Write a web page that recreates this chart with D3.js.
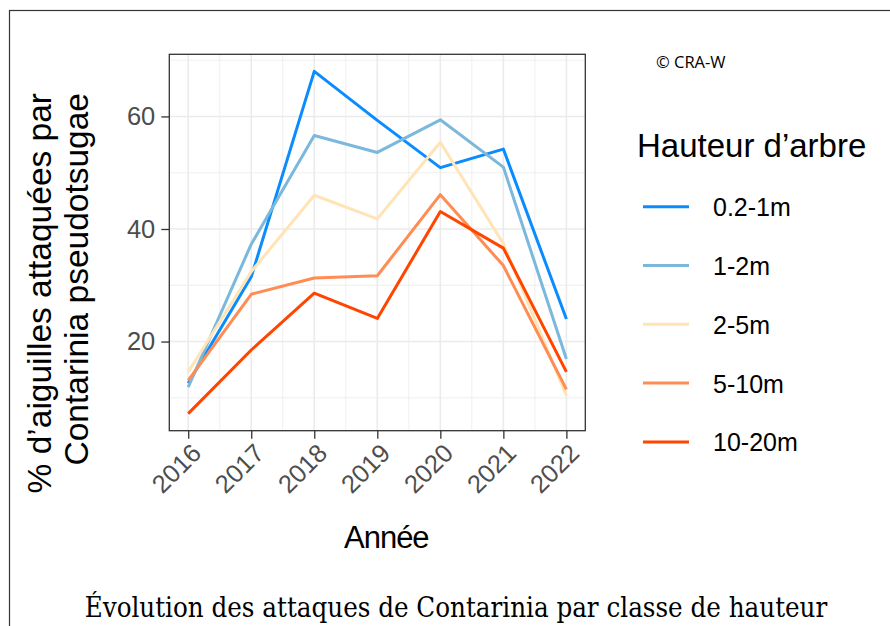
<!DOCTYPE html>
<meta charset="utf-8">
<head>
  <script src="https://cdn.jsdelivr.net/npm/d3@7"></script>
  <style>
    body { margin: 0; background: #fff; }
    svg { display: block; }
    .tick text { font-family: "Liberation Sans", Arial, sans-serif; fill: #4d4d4d; }
  </style>
</head>
<body>
<script type="text/javascript">

// Donnees
var years = [2016, 2017, 2018, 2019, 2020, 2021, 2022];
var classes = ["0.2-1m", "1-2m", "2-5m", "5-10m", "10-20m"];
var colors = ["#0a8cff", "#7ab8dc", "#ffe4b5", "#ff8c52", "#ff4500"];
var s02_1 = [12.6, 31.5, 68.0, 59.3, 50.9, 54.2, 24.0];
var s1_2 = [11.9, 37.3, 56.6, 53.6, 59.4, 51.0, 16.9];
var s2_5 = [14.6, 32.4, 46.0, 41.8, 55.4, 37.4, 10.4];
var s5_10 = [13.1, 28.4, 31.3, 31.7, 46.1, 33.5, 11.5];
var s10_20 = [7.2, 18.5, 28.6, 24.1, 43.1, 36.6, 14.6];
var yTicks = [20, 40, 60];
var yMinor = [10, 30, 50, 70];

var series = [s02_1, s1_2, s2_5, s5_10, s10_20];

var W = 890, H = 626;
var panel = {left: 169.3, top: 54.3, right: 585.3, bottom: 430.7};
var sans = "'Liberation Sans', Arial, sans-serif";

var svg = d3.select("body").append("svg")
  .attr("width", W).attr("height", H);

// cadre de l'image
svg.append("rect")
  .attr("x", 9.5).attr("y", 10.5)
  .attr("width", W + 20).attr("height", H + 20)
  .attr("fill", "none").attr("stroke", "#333").attr("stroke-width", 1.2);

// echelles (expansion 5% comme ggplot)
var allV = d3.merge(series);
var vmin = d3.min(allV), vmax = d3.max(allV);
var pad = (vmax - vmin) * 0.05;
var yScale = d3.scaleLinear().domain([vmin - pad, vmax + pad]).range([panel.bottom, panel.top]);
var xpad = (2022 - 2016) * 0.05;
var xScale = d3.scaleLinear().domain([2016 - xpad, 2022 + xpad]).range([panel.left, panel.right]);

// grille
var grid = svg.append("g");
var xMinor = years.slice(0, -1).map(function(y) { return y + 0.5; });
grid.selectAll(".xmin").data(xMinor).enter().append("line")
  .attr("x1", function(d) { return xScale(d); }).attr("x2", function(d) { return xScale(d); })
  .attr("y1", panel.top).attr("y2", panel.bottom)
  .attr("stroke", "#ebebeb").attr("stroke-width", 0.8);
grid.selectAll(".ymin").data(yMinor).enter().append("line")
  .attr("y1", function(d) { return yScale(d); }).attr("y2", function(d) { return yScale(d); })
  .attr("x1", panel.left).attr("x2", panel.right)
  .attr("stroke", "#ebebeb").attr("stroke-width", 0.8);
grid.selectAll(".xmaj").data(years).enter().append("line")
  .attr("x1", function(d) { return xScale(d); }).attr("x2", function(d) { return xScale(d); })
  .attr("y1", panel.top).attr("y2", panel.bottom)
  .attr("stroke", "#ebebeb").attr("stroke-width", 1.6);
grid.selectAll(".ymaj").data(yTicks).enter().append("line")
  .attr("y1", function(d) { return yScale(d); }).attr("y2", function(d) { return yScale(d); })
  .attr("x1", panel.left).attr("x2", panel.right)
  .attr("stroke", "#ebebeb").attr("stroke-width", 1.6);

// lignes
var line = d3.line()
  .x(function(d, i) { return xScale(years[i]); })
  .y(function(d) { return yScale(d); });

svg.selectAll(".serie").data(series).enter().append("path")
  .attr("d", line)
  .attr("fill", "none")
  .attr("stroke", function(d, i) { return colors[i]; })
  .attr("stroke-width", 3)
  .attr("stroke-linejoin", "round");

// cadre du panneau
svg.append("rect")
  .attr("x", panel.left).attr("y", panel.top)
  .attr("width", panel.right - panel.left).attr("height", panel.bottom - panel.top)
  .attr("fill", "none").attr("stroke", "#333").attr("stroke-width", 1.3);

// axes
var yAxis = d3.axisLeft(yScale).tickValues(yTicks).tickSize(8).tickPadding(6);
var gy = svg.append("g").attr("transform", "translate(" + panel.left + ",0)").call(yAxis);
gy.select(".domain").remove();
gy.selectAll(".tick line").attr("stroke", "#333").attr("stroke-width", 1.3);
gy.selectAll(".tick text").style("font-size", "25.5px");

var xAxis = d3.axisBottom(xScale).tickValues(years).tickFormat(d3.format("d")).tickSize(8);
var gx = svg.append("g").attr("transform", "translate(0," + panel.bottom + ")").call(xAxis);
gx.select(".domain").remove();
gx.selectAll(".tick line").attr("stroke", "#333").attr("stroke-width", 1.3);
gx.selectAll(".tick text")
  .style("font-size", "25.5px")
  .attr("text-anchor", "end")
  .attr("y", 0).attr("dy", 0)
  .attr("transform", "translate(14,24) rotate(-45)");

// titres des axes
svg.append("text")
  .attr("x", (panel.left + panel.right) / 2 + 9).attr("y", 548)
  .attr("text-anchor", "middle")
  .style("font-family", sans).style("font-size", "31px")
  .style("letter-spacing", "-1px")
  .text("Année");

var yt = svg.append("text")
  .attr("transform", "rotate(-90)")
  .attr("text-anchor", "end")
  .style("font-family", sans).style("font-size", "33.5px");
yt.append("tspan").attr("x", -93).attr("y", 51).text("% d’aiguilles attaquées par");
yt.append("tspan").attr("x", -93).attr("y", 88).text("Contarinia pseudotsugae");

// legende
svg.append("text")
  .attr("x", 637).attr("y", 157)
  .style("font-family", sans).style("font-size", "33px")
  .text("Hauteur d’arbre");

var leg = svg.selectAll(".leg").data(classes).enter().append("g")
  .attr("transform", function(d, i) { return "translate(643," + (206.7 + i * 58.8) + ")"; });
leg.append("line")
  .attr("x1", 0).attr("x2", 46)
  .attr("stroke", function(d, i) { return colors[i]; })
  .attr("stroke-width", 3);
leg.append("text")
  .attr("x", 70).attr("y", 9.5)
  .style("font-family", sans).style("font-size", "25px")
  .text(function(d) { return d; });

// copyright
svg.append("text")
  .attr("x", 656).attr("y", 68)
  .style("font-family", "'Open Sans', sans-serif").style("font-size", "16.5px")
  .text("© CRA-W");

// legende de la figure
svg.append("text")
  .attr("x", 456).attr("y", 617)
  .attr("text-anchor", "middle")
  .style("font-family", "'DejaVu Serif Condensed', 'DejaVu Serif', serif").style("font-size", "27.4px")
  .text("Évolution des attaques de Contarinia par classe de hauteur");

</script>
</body>
